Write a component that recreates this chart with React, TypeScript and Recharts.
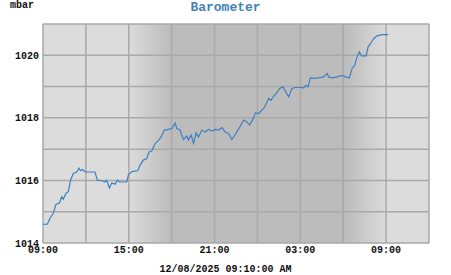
import { LineChart, Line, XAxis, YAxis, CartesianGrid } from 'recharts'

// hours since 09:00 on the first day
const hours = [
  0, 0.3, 0.49, 0.72, 0.91, 1.14, 1.31, 1.42, 1.61, 1.77, 1.94, 2.12, 2.36, 2.52, 2.64, 2.78, 2.96,
  3.64, 3.8, 4.11, 4.34, 4.46, 4.64, 4.81, 5.04, 5.2, 5.34, 5.86, 5.97, 6.21, 6.63, 6.79, 7.02,
  7.26, 7.42, 7.61, 7.84, 8.07, 8.26, 8.49, 8.77, 9.01, 9.24, 9.36, 9.59, 9.82, 10.06, 10.17,
  10.36, 10.53, 10.71, 10.88, 11.11, 11.34, 11.58, 11.86, 12.04, 12.28, 12.51, 12.75, 12.98,
  13.21, 13.38, 13.56, 13.8, 14.03, 14.26, 14.45, 14.68, 14.85, 15.08, 15.25, 15.43, 15.62,
  15.78, 15.95, 16.13, 16.32, 16.55, 16.79, 16.95, 17.18, 17.42, 17.65, 18.0, 18.23, 18.4,
  18.54, 18.7, 19.05, 19.4, 19.63, 19.87, 19.98, 20.22, 20.57, 20.92, 21.15, 21.43, 21.62,
  21.8, 21.97, 22.13, 22.27, 22.6, 22.74, 22.9, 23.13, 23.37, 23.72, 24.16,
]

const pressure = [
  1014.6, 1014.6, 1014.79, 1014.95, 1015.24, 1015.27, 1015.48, 1015.4, 1015.59, 1015.64, 1016.03,
  1016.22, 1016.27, 1016.39, 1016.31, 1016.35, 1016.27, 1016.27, 1016.01, 1015.99, 1015.95, 1016.0,
  1015.76, 1015.92, 1015.88, 1016.01, 1015.95, 1015.95, 1016.17, 1016.28, 1016.31, 1016.49,
  1016.65, 1016.7, 1016.91, 1016.95, 1017.18, 1017.27, 1017.39, 1017.61, 1017.63, 1017.66,
  1017.84, 1017.66, 1017.61, 1017.31, 1017.42, 1017.29, 1017.45, 1017.18, 1017.52, 1017.39,
  1017.61, 1017.55, 1017.63, 1017.58, 1017.63, 1017.61, 1017.69, 1017.55, 1017.5, 1017.31,
  1017.42, 1017.55, 1017.73, 1017.93, 1017.87, 1017.77, 1017.95, 1018.16, 1018.14, 1018.22,
  1018.3, 1018.46, 1018.62, 1018.56, 1018.69, 1018.78, 1018.94, 1018.99, 1018.86, 1018.67,
  1018.94, 1018.97, 1018.97, 1018.96, 1019.04, 1018.99, 1019.28, 1019.26, 1019.29, 1019.31,
  1019.42, 1019.31, 1019.28, 1019.31, 1019.36, 1019.31, 1019.28, 1019.58, 1019.68, 1019.95,
  1020.11, 1019.98, 1019.98, 1020.27, 1020.37, 1020.53, 1020.62, 1020.66, 1020.66,
]

const xTicks = [0, 3, 6, 9, 12, 15, 18, 21, 24, 27]
const xLabels = ['09:00', '15:00', '21:00', '03:00', '09:00']
const yTicks = [1014, 1015, 1016, 1017, 1018, 1019, 1020, 1021]

// twilight bands (hours since 09:00)
const dusk = [5.95, 8.9]
const dawn = [21.15, 24.1]
const span = 27

const data = hours.map((h, i) => ({ h, p: pressure[i] }))

const mono = '"Liberation Mono", "DejaVu Sans Mono", monospace'
const dayColor = '#dcdcdc'
const nightColor = '#bcbcbc'

export default function App() {
  return (
    <div style={{ position: 'absolute', left: 0, top: 0, width: 451, height: 275, fontFamily: mono }}>
      <div style={{ position: 'absolute', left: 10, top: 1, fontSize: 10, lineHeight: '10px', fontWeight: 'bold', color: '#111' }}>
        mbar
      </div>
      <div
        style={{
          position: 'absolute',
          left: 0,
          width: 451,
          top: 1,
          textAlign: 'center',
          fontSize: 13,
          lineHeight: '13px',
          fontWeight: 'bold',
          color: '#4682b4',
        }}
      >
        Barometer
      </div>
      <LineChart width={451} height={275} data={data} margin={{ top: 24, right: 22, bottom: 0, left: 0 }}>
        <defs>
          <linearGradient id="night" x1="0" y1="0" x2="1" y2="0">
            <stop offset={0} stopColor={dayColor} />
            <stop offset={dusk[0] / span} stopColor={dayColor} />
            <stop offset={dusk[1] / span} stopColor={nightColor} />
            <stop offset={dawn[0] / span} stopColor={nightColor} />
            <stop offset={dawn[1] / span} stopColor={dayColor} />
            <stop offset={1} stopColor={dayColor} />
          </linearGradient>
        </defs>
        <CartesianGrid stroke="#a9a9a9" strokeWidth={1.5} fill="url(#night)" fillOpacity={1} />
        <XAxis
          type="number"
          dataKey="h"
          domain={[0, span]}
          ticks={xTicks}
          interval={0}
          tickFormatter={(v: number) => (v % 6 === 0 ? xLabels[v / 6] : '')}
          tickLine={false}
          axisLine={false}
          tickSize={0}
          tickMargin={3}
          height={32}
          tick={{ fontSize: 10, fontFamily: mono, fontWeight: 'bold', fill: '#111' }}
        />
        <YAxis
          type="number"
          domain={[1014, 1021]}
          ticks={yTicks}
          interval={0}
          tickFormatter={(v: number) => (v % 2 === 0 ? String(v) : '')}
          tickLine={false}
          axisLine={false}
          tickSize={0}
          tickMargin={4}
          width={43}
          tick={{ fontSize: 10, fontFamily: mono, fontWeight: 'bold', fill: '#111' }}
        />
        <Line
          type="linear"
          dataKey="p"
          stroke="#3d80c0"
          strokeWidth={1.2}
          dot={false}
          activeDot={false}
          isAnimationActive={false}
        />
      </LineChart>
      <div
        style={{
          position: 'absolute',
          left: 0,
          width: 451,
          top: 265,
          textAlign: 'center',
          fontSize: 10,
          lineHeight: '10px',
          fontWeight: 'bold',
          color: '#111',
        }}
      >
        12/08/2025 09:10:00 AM
      </div>
    </div>
  )
}
